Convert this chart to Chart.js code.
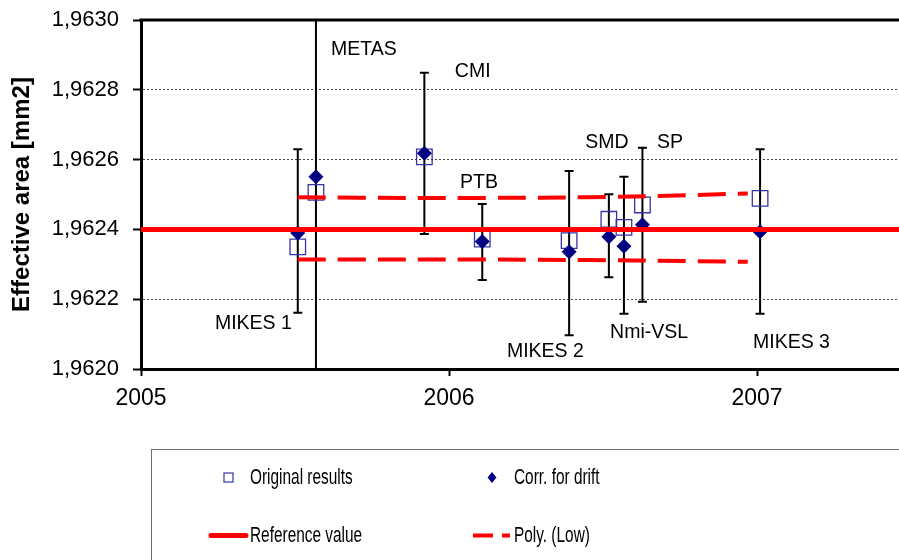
<!DOCTYPE html>
<html lang="en">
<head>
    <meta charset="UTF-8">
    <title>Effective area</title>
    <style>
        html, body {
            margin: 0;
            padding: 0;
            background: #fff;
            overflow: hidden;
        }
        #wrap {
            width: 899px;
            height: 560px;
        }
    </style>
</head>
<body>
    <div id="wrap"><canvas id="chart" width="899" height="560"></canvas></div>

    <script src="https://cdn.jsdelivr.net/npm/chart.js"></script>
    <script>
        // measurement dates (decimal years) and lab names
        const labs = ['MIKES 1', 'METAS', 'CMI', 'PTB', 'MIKES 2', 'SMD', 'Nmi-VSL', 'SP', 'MIKES 3'];
        const years = [2005.509, 2005.568, 2005.920, 2006.108, 2006.390, 2006.519, 2006.568, 2006.628, 2007.010];

        // effective area [mm2]
        const original = [1.962350, 1.962506, 1.962608, 1.962372, 1.962368, 1.962429, 1.962406, 1.962470, 1.962489];
        const corrected = [1.962390, 1.962551, 1.962618, 1.962365, 1.962336, 1.962379, 1.962352, 1.962413, 1.962393];
        const errHigh = [1.962630, 1.963700, 1.962849, 1.962473, 1.962567, 1.962501, 1.962551, 1.962634, 1.962630];
        const errLow = [1.962161, 1.961400, 1.962387, 1.962255, 1.962097, 1.962263, 1.962158, 1.962193, 1.962158];

        const refValue = 1.9624;

        // polynomial trend lines
        const polyYears = [2005.509, 2005.900, 2006.300, 2006.600, 2006.970];
        const polyHigh = [1.962492, 1.962490, 1.962491, 1.962494, 1.962503];
        const polyLow = [1.962314, 1.962314, 1.962313, 1.962311, 1.962307];

        // text labels placed next to the points
        const labelNames = ['MIKES 1', 'METAS', 'CMI', 'PTB', 'MIKES 2', 'SMD', 'Nmi-VSL', 'SP', 'MIKES 3'];
        const labelX = [2005.240, 2005.617, 2006.019, 2006.036, 2006.188, 2006.442, 2006.523, 2006.675, 2006.987];
        const labelY = [1.962129, 1.962914, 1.962851, 1.962533, 1.962049, 1.962648, 1.962103, 1.962648, 1.962077];

        const xMin = 2005, xMax = 2007.461;
        const yMin = 1.962, yMax = 1.963;

        const FONT = 'Arial, "Liberation Sans", sans-serif';
        Chart.defaults.font.family = FONT;
        Chart.defaults.color = '#000';

        const pts = (xs, ys) => xs.map((v, i) => ({ x: v, y: ys[i] }));

        const errorBars = {
            id: 'errorBars',
            beforeDatasetsDraw(chart) {
                const { ctx, chartArea: a, scales: { x, y } } = chart;
                ctx.save();
                ctx.beginPath();
                ctx.rect(a.left, a.top, a.right - a.left, a.bottom - a.top);
                ctx.clip();
                ctx.strokeStyle = '#000';
                ctx.lineWidth = 2;
                years.forEach((yr, i) => {
                    const px = x.getPixelForValue(yr);
                    const top = y.getPixelForValue(errHigh[i]);
                    const bot = y.getPixelForValue(errLow[i]);
                    ctx.beginPath();
                    ctx.moveTo(px, top);
                    ctx.lineTo(px, bot);
                    ctx.moveTo(px - 4.5, top);
                    ctx.lineTo(px + 4.5, top);
                    ctx.moveTo(px - 4.5, bot);
                    ctx.lineTo(px + 4.5, bot);
                    ctx.stroke();
                });
                ctx.restore();
            }
        };

        const extras = {
            id: 'extras',
            afterDatasetsDraw(chart) {
                const { ctx, scales: { x, y } } = chart;
                ctx.save();
                ctx.font = '19.5px ' + FONT;
                ctx.fillStyle = '#000';
                ctx.textAlign = 'left';
                ctx.textBaseline = 'middle';
                labelNames.forEach((name, i) => {
                    ctx.fillText(name, x.getPixelForValue(labelX[i]), y.getPixelForValue(labelY[i]));
                });
                ctx.restore();
            },
            afterDraw(chart) {
                const { ctx, chartArea: a } = chart;
                const ds = chart.data.datasets;
                ctx.save();
                // top frame line
                ctx.strokeStyle = '#000';
                ctx.lineWidth = 3;
                ctx.beginPath();
                ctx.moveTo(a.left - 1.5, a.top);
                ctx.lineTo(a.right, a.top);
                ctx.stroke();

                // legend box
                ctx.strokeStyle = '#6e6e6e';
                ctx.lineWidth = 1;
                ctx.strokeRect(151.5, 449.5, 800, 200);

                const text = (s, tx, ty) => {
                    ctx.save();
                    ctx.translate(tx, ty);
                    ctx.scale(0.7, 1);
                    ctx.font = '22px ' + FONT;
                    ctx.fillStyle = '#000';
                    ctx.textBaseline = 'middle';
                    ctx.fillText(s, 0, 0);
                    ctx.restore();
                };

                // original results
                ctx.strokeStyle = ds[0].borderColor;
                ctx.lineWidth = 1.2;
                ctx.strokeRect(224, 473, 9, 9);
                text(ds[0].label, 250, 478);

                // corr. for drift
                ctx.fillStyle = ds[1].backgroundColor;
                ctx.beginPath();
                ctx.moveTo(492, 472);
                ctx.lineTo(496.5, 477.5);
                ctx.lineTo(492, 483);
                ctx.lineTo(487.5, 477.5);
                ctx.closePath();
                ctx.fill();
                text(ds[1].label, 514, 478);

                // reference value
                ctx.strokeStyle = ds[4].borderColor;
                ctx.lineWidth = 5;
                ctx.lineCap = 'round';
                ctx.beginPath();
                ctx.moveTo(211, 535.5);
                ctx.lineTo(246, 535.5);
                ctx.stroke();
                text(ds[4].label, 250, 536);

                // poly (low)
                ctx.lineWidth = 4;
                ctx.lineCap = 'butt';
                ctx.beginPath();
                ctx.moveTo(473, 535.5);
                ctx.lineTo(493, 535.5);
                ctx.moveTo(502, 535.5);
                ctx.lineTo(510, 535.5);
                ctx.stroke();
                text(ds[2].label, 514, 536);
                ctx.restore();
            }
        };

        const ctx = document.getElementById('chart').getContext('2d');
        new Chart(ctx, {
            type: 'scatter',
            data: {
                datasets: [
                    {
                        label: 'Original results',
                        data: pts(years, original),
                        pointStyle: 'rect',
                        pointRadius: 11,
                        pointBorderWidth: 1.3,
                        borderColor: '#3535a8',
                        backgroundColor: 'rgba(0,0,0,0)',
                        showLine: false,
                        order: 4
                    },
                    {
                        label: 'Corr. for drift',
                        data: pts(years, corrected),
                        pointStyle: 'rectRot',
                        pointRadius: 7.5,
                        pointBorderWidth: 0,
                        borderColor: '#000080',
                        backgroundColor: '#000080',
                        showLine: false,
                        order: 3
                    },
                    {
                        label: 'Poly. (Low)',
                        data: pts(polyYears, polyLow),
                        showLine: true,
                        borderColor: '#ff0000',
                        borderWidth: 4,
                        borderDash: [28, 12],
                        tension: 0.3,
                        pointRadius: 0,
                        order: 2
                    },
                    {
                        label: 'Poly. (High)',
                        data: pts(polyYears, polyHigh),
                        showLine: true,
                        borderColor: '#ff0000',
                        borderWidth: 4,
                        borderDash: [28, 12],
                        tension: 0.3,
                        pointRadius: 0,
                        order: 2
                    },
                    {
                        label: 'Reference value',
                        data: [{ x: xMin, y: refValue }, { x: xMax, y: refValue }],
                        showLine: true,
                        borderColor: '#ff0000',
                        borderWidth: 5,
                        pointRadius: 0,
                        order: 1
                    }
                ]
            },
            options: {
                responsive: false,
                animation: false,
                layout: { autoPadding: false, padding: { top: 20, left: 0, right: 0, bottom: 0 } },
                plugins: {
                    legend: { display: false },
                    tooltip: { enabled: false }
                },
                scales: {
                    x: {
                        type: 'linear',
                        min: xMin,
                        max: xMax,
                        afterBuildTicks: s => { s.ticks = s.ticks.filter(t => Number.isInteger(t.value)); },
                        afterFit: s => {
                            s.height = 191;
                            s.paddingLeft = 0;
                            s.paddingRight = 0;
                        },
                        ticks: {
                            stepSize: 1,
                            includeBounds: false,
                            maxRotation: 0,
                            padding: 9,
                            font: { size: 23 },
                            color: '#000',
                            callback: v => String(v)
                        },
                        grid: {
                            drawOnChartArea: false,
                            tickColor: '#000',
                            tickLength: 7,
                            tickWidth: 2
                        },
                        border: { color: '#000', width: 3 }
                    },
                    y: {
                        min: yMin,
                        max: yMax,
                        afterFit: s => {
                            s.width = 141;
                            s.paddingTop = 0;
                            s.paddingBottom = 0;
                        },
                        ticks: {
                            stepSize: 0.0002,
                            padding: 14,
                            font: { size: 22 },
                            color: '#000',
                            callback: v => v.toFixed(4).replace('.', ',')
                        },
                        grid: {
                            color: c => (c.tick && (Math.abs(c.tick.value - yMin) < 1e-7 || Math.abs(c.tick.value - yMax) < 1e-7)) ? 'rgba(0,0,0,0)' : '#444',
                            lineWidth: 1,
                            tickColor: '#000',
                            tickLength: 8,
                            tickWidth: 2,
                            tickBorderDash: []
                        },
                        border: { color: '#000', width: 3, dash: [2, 2] },
                        title: {
                            display: true,
                            text: 'Effective area [mm2]',
                            font: { size: 24, weight: 'bold' },
                            color: '#000',
                            padding: { top: 8, bottom: 0 }
                        }
                    }
                }
            },
            plugins: [errorBars, extras]
        });
    </script>
</body>
</html>
